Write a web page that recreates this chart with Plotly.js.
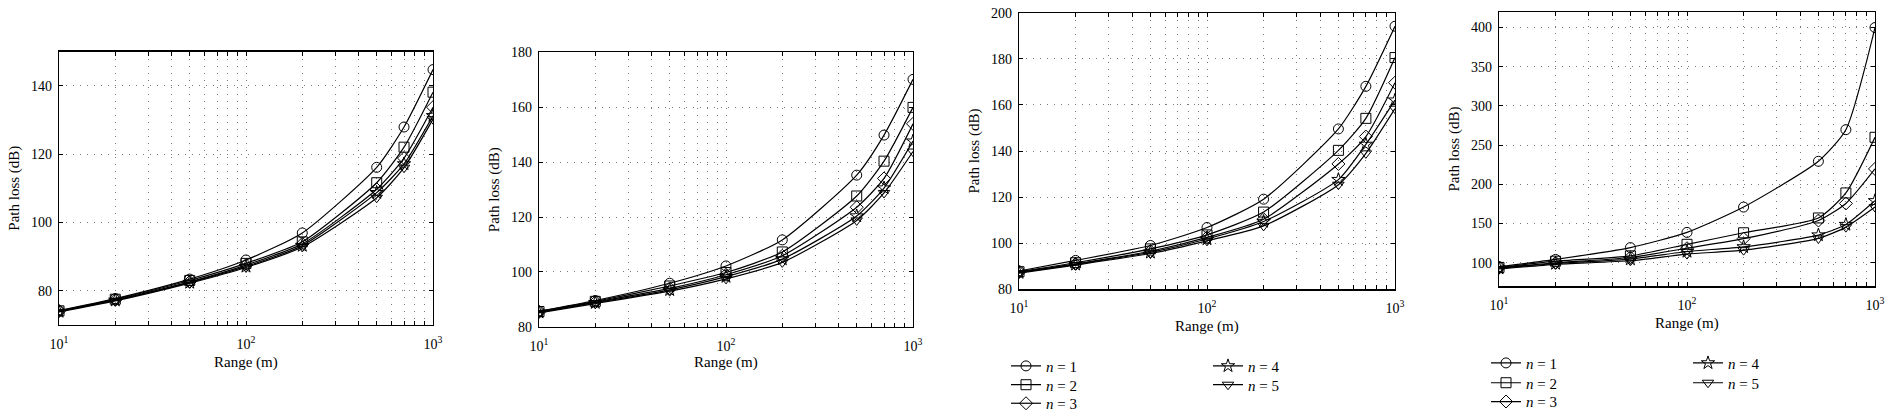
<!DOCTYPE html>
<html>
<head>
<meta charset="utf-8">
<script src="https://cdn.plot.ly/plotly-3.0.1.min.js"></script>
<style>html,body{margin:0;padding:0;background:#fff;}#chart{width:1891px;height:420px;}</style>
</head>
<body>
<div id="chart"></div>
<script>
// Range (m)
const rangeM = [10, 20, 50, 100, 200, 500, 700, 1000];
const seriesNames = ['<i>n</i> = 1', '<i>n</i> = 2', '<i>n</i> = 3', '<i>n</i> = 4', '<i>n</i> = 5'];
const xTitle = 'Range (m)';
const yTitle = 'Path loss (dB)';

// Panel 1 path loss (dB)
const p1_n1 = [74.2, 77.7, 83.4, 89.0, 96.9, 116.1, 127.9, 144.7];
const p1_n2 = [74.1, 77.5, 83.0, 88.0, 94.3, 111.6, 122.0, 138.1];
const p1_n3 = [74.0, 77.3, 82.6, 87.5, 93.7, 109.7, 118.8, 133.7];
const p1_n4 = [73.9, 77.2, 82.4, 87.1, 93.2, 108.7, 117.1, 131.2];
const p1_n5 = [73.8, 77.0, 82.2, 86.8, 92.8, 107.2, 116.0, 130.2];

// Panel 2
const p2_n1 = [85.7, 89.6, 95.9, 102.2, 111.7, 135.3, 149.9, 170.2];
const p2_n2 = [85.6, 89.3, 94.9, 99.8, 107.3, 127.7, 140.4, 160.0];
const p2_n3 = [85.4, 89.0, 94.0, 99.0, 105.9, 123.6, 134.1, 154.0];
const p2_n4 = [85.3, 88.8, 93.5, 98.3, 104.7, 120.4, 130.6, 147.7];
const p2_n5 = [85.1, 88.5, 93.0, 97.5, 103.5, 118.8, 128.8, 143.9];

// Panel 3
const p3_n1 = [87.9, 92.5, 99.0, 106.8, 119.1, 149.6, 168.1, 194.2];
const p3_n2 = [87.6, 91.5, 97.5, 103.6, 113.5, 140.3, 154.2, 180.6];
const p3_n3 = [87.4, 91.0, 96.5, 102.5, 110.4, 134.4, 146.3, 169.7];
const p3_n4 = [87.2, 90.8, 96.0, 101.8, 109.4, 127.6, 142.9, 162.1];
const p3_n5 = [87.0, 90.5, 95.5, 101.0, 107.5, 125.4, 139.0, 158.4];

// Panel 4
const p4_n1 = [95.0, 104.2, 119.3, 138.7, 171.0, 229.4, 269.7, 400.0];
const p4_n2 = [94.0, 102.0, 108.8, 123.5, 138.2, 157.1, 189.0, 260.0];
const p4_n3 = [93.5, 100.0, 106.7, 118.5, 130.7, 153.8, 175.6, 219.7];
const p4_n4 = [93.0, 99.0, 104.6, 114.3, 120.2, 135.3, 148.7, 179.0];
const p4_n5 = [92.0, 98.0, 102.5, 111.0, 116.0, 131.0, 145.4, 171.0];

// Tick values / labels
const xTickVals = [10,20,30,40,50,60,70,80,90,100,200,300,400,500,600,700,800,900,1000];
const xTickText = ['10<sup>1</sup>','','','','','','','','','10<sup>2</sup>','','','','','','','','','10<sup>3</sup>'];
const p1_yTicks = [80, 100, 120, 140];
const p2_yTicks = [80, 100, 120, 140, 160, 180];
const p3_yTicks = [80, 100, 120, 140, 160, 180, 200];
const p4_yTicks = [100, 150, 200, 250, 300, 350, 400];

const panels = [
  {data: [p1_n1, p1_n2, p1_n3, p1_n4, p1_n5], yticks: p1_yTicks, yrange: [70, 150], legends: null},
  {data: [p2_n1, p2_n2, p2_n3, p2_n4, p2_n5], yticks: p2_yTicks, yrange: [80, 180], legends: null},
  {data: [p3_n1, p3_n2, p3_n3, p3_n4, p3_n5], yticks: p3_yTicks, yrange: [80, 200], legends: ['legend','legend2','legend3','legend4','legend5']},
  {data: [p4_n1, p4_n2, p4_n3, p4_n4, p4_n5], yticks: p4_yTicks, yrange: [70, 420], legends: ['legend6','legend7','legend8','legend9','legend10']}
];
const symbols = ['circle-open', 'square-open', 'diamond-open', 'star-open', 'triangle-down-open'];

const W = 1891, H = 420;
// plot boxes in pixels: [left, right, top, bottom]
const boxes = [[59, 433, 52, 328], [539, 913, 53, 330], [1019, 1395, 13, 292], [1499, 1875, 12, 289]];
const xTitleY = [366, 366, 330, 327];

const FONT = 'Liberation Serif';
const traces = [];
const layout = {
  width: W, height: H,
  margin: {l: 0, r: 0, t: 0, b: 0},
  paper_bgcolor: '#fff', plot_bgcolor: '#fff',
  font: {family: FONT, size: 14, color: '#000'},
  showlegend: true,
  annotations: []
};

panels.forEach((p, i) => {
  const k = i + 1;
  const xa = 'x' + (k === 1 ? '' : k), ya = 'y' + (k === 1 ? '' : k);
  p.data.forEach((ys, j) => {
    const t = {
      type: 'scatter', mode: 'lines+markers',
      x: rangeM, y: ys, name: seriesNames[j],
      xaxis: xa, yaxis: ya,
      line: {color: '#000', width: 1.2, shape: 'spline', smoothing: 0.6},
      marker: {symbol: symbols[j], size: 10, color: '#000', line: {width: 1, color: '#000'}},
      showlegend: !!p.legends
    };
    if (p.legends) t.legend = p.legends[j];
    traces.push(t);
  });
  const b = boxes[i];
  const xKey = 'xaxis' + (k === 1 ? '' : k), yKey = 'yaxis' + (k === 1 ? '' : k);
  layout[xKey] = {
    type: 'log', range: [1, 3], domain: [b[0] / W, b[1] / W],
    anchor: ya,
    tickvals: xTickVals, ticktext: xTickText,
    ticks: 'inside', ticklen: 4, tickcolor: '#000',
    showline: true, linecolor: '#000', linewidth: 1.3, mirror: 'ticks',
    showgrid: true, gridcolor: '#777', gridwidth: 1, griddash: '1px,6px',
    zeroline: false, ticklabelstandoff: 6,
    tickfont: {family: FONT, size: 14}
  };
  layout[yKey] = {
    range: p.yrange, domain: [1 - b[3] / H, 1 - b[2] / H],
    anchor: xa,
    tickvals: p.yticks,
    ticks: 'inside', ticklen: 4, tickcolor: '#000',
    showline: true, linecolor: '#000', linewidth: 1.3, mirror: 'ticks',
    showgrid: true, gridcolor: '#777', gridwidth: 1, griddash: '1px,6px',
    zeroline: false, ticklabelstandoff: 3,
    tickfont: {family: FONT, size: 14},
    title: {text: yTitle, font: {family: FONT, size: 15}}
  };
  // x-axis title as a positioned text label
  layout.annotations.push({
    text: xTitle, xref: 'paper', yref: 'paper',
    x: (b[0] + b[1]) / 2 / W, y: 1 - xTitleY[i] / H,
    xanchor: 'center', yanchor: 'middle', showarrow: false,
    font: {family: FONT, size: 15, color: '#000'}
  });
});

// one legend box per entry (two columns under panels 3 and 4)
const legStyle = {bgcolor: 'rgba(0,0,0,0)', borderwidth: 0, font: {family: FONT, size: 15}, orientation: 'v', xanchor: 'left', yanchor: 'top', itemwidth: 30};
const legPos = [
  ['legend', 1006, 369], ['legend2', 1006, 388], ['legend3', 1006, 407], ['legend4', 1208, 369], ['legend5', 1208, 388],
  ['legend6', 1486, 366], ['legend7', 1486, 386], ['legend8', 1486, 405], ['legend9', 1688, 366], ['legend10', 1688, 386]
];
legPos.forEach(([id, px, cy]) => {
  layout[id] = Object.assign({}, legStyle, {x: px / W, y: 1 - (cy - 16) / H});
});

Plotly.newPlot('chart', traces, layout, {displayModeBar: false, staticPlot: true});
</script>
</body>
</html>
